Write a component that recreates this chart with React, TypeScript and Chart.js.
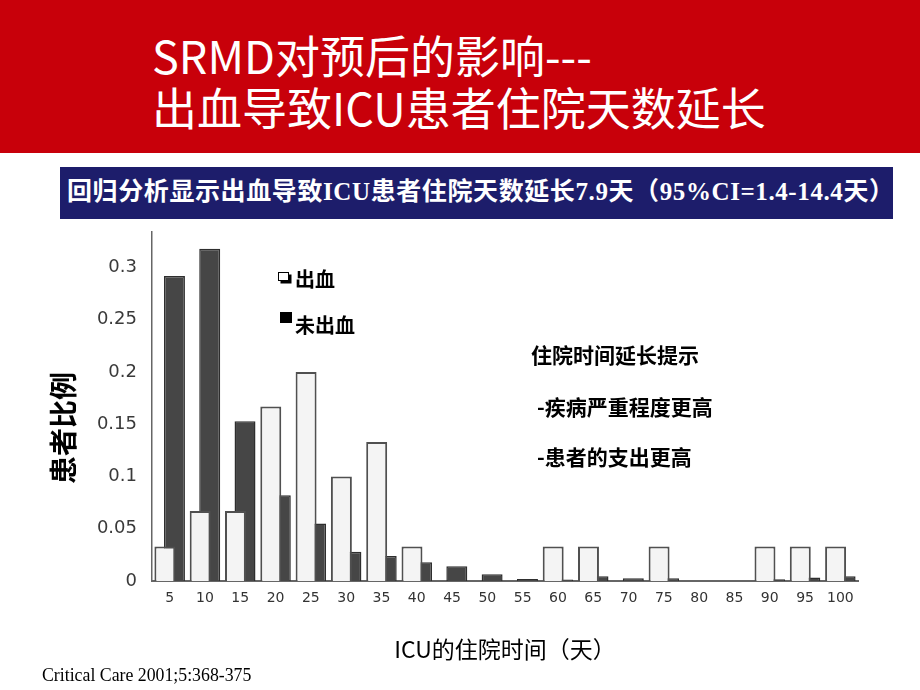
import React, { useEffect, useRef } from 'react';
import { Chart, registerables } from 'chart.js';

Chart.register(...registerables);

// ---- data ----
const days = ['5', '10', '15', '20', '25', '30', '35', '40', '45', '50', '55', '60', '65', '70', '75', '80', '85', '90', '95', '100'];
const bleeding = [0.033, 0.067, 0.067, 0.167, 0.2, 0.1, 0.133, 0.033, 0, 0, 0, 0.033, 0.033, 0, 0.033, 0, 0, 0.033, 0.033, 0.033];
const noBleeding = [0.292, 0.318, 0.153, 0.082, 0.055, 0.028, 0.024, 0.018, 0.014, 0.0065, 0.002, 0.0015, 0.0045, 0.0026, 0.0026, 0, 0, 0.0017, 0.0033, 0.0045];
const seriesNames = ['出血', '未出血'];
const yTickValues = [0, 0.05, 0.1, 0.15, 0.2, 0.25, 0.3];
const yTickLabels = ['0', '0.05', '0.1', '0.15', '0.2', '0.25', '0.3'];
const yMax = 0.334;

const titleLine1 = 'SRMD对预后的影响---';
const titleLine2 = '出血导致ICU患者住院天数延长';
const subtitle = '回归分析显示出血导致ICU患者住院天数延长7.9天（95%CI=1.4-14.4天）';
const yTitle = '患者比例';
const xTitle = 'ICU的住院时间（天）';
const notes = ['住院时间延长提示', '-疾病严重程度更高', '-患者的支出更高'];
const citation = 'Critical Care 2001;5:368-375';

const CJK = '"Noto Sans CJK SC", "Noto Sans", sans-serif';

export default function App() {
  const canvasRef = useRef<HTMLCanvasElement | null>(null);

  useEffect(() => {
    document.body.style.margin = '0';
    const canvas = canvasRef.current;
    if (!canvas) return;
    const chart = new Chart(canvas, {
      type: 'bar',
      data: {
        labels: days,
        datasets: [
          {
            label: seriesNames[0],
            data: bleeding,
            backgroundColor: '#f4f4f4',
            borderColor: '#505050',
            borderWidth: 2,
            categoryPercentage: 0.54,
            barPercentage: 2.2,
          },
          {
            label: seriesNames[1],
            data: noBleeding,
            backgroundColor: '#464646',
            borderColor: '#2e2e2e',
            borderWidth: 1.5,
            categoryPercentage: 0.54,
            barPercentage: 2.2,
          },
        ],
      },
      options: {
        animation: false,
        responsive: false,
        maintainAspectRatio: false,
        layout: { padding: { top: 12, left: 0, right: 62, bottom: 27 } },
        plugins: {
          legend: { display: false },
          tooltip: { enabled: false },
          title: { display: false },
        },
        scales: {
          x: {
            grid: { display: false, drawTicks: false },
            border: { color: '#666666', width: 2 },
            ticks: {
              color: '#333333',
              font: { family: '"DejaVu Sans", sans-serif', size: 14 },
              padding: 9,
              maxRotation: 0,
              autoSkip: false,
            },
            title: {
              display: true,
              text: xTitle,
              color: '#000000',
              font: { family: CJK, size: 23 },
              padding: { top: 0, bottom: 0 },
            },
            afterFit: (s: any) => {
              s.height = 82;
              s.paddingLeft = 0;
              s.paddingRight = 0;
            },
          },
          y: {
            min: 0,
            max: yMax,
            grid: { display: false, drawTicks: false },
            border: { color: '#666666', width: 1.5 },
            ticks: {
              color: '#3a3a3a',
              font: { family: '"DejaVu Sans", sans-serif', size: 18 },
              padding: 15,
              callback: (v: any) => {
                const i = yTickValues.findIndex((t) => Math.abs(t - Number(v)) < 1e-9);
                return i >= 0 ? yTickLabels[i] : '';
              },
            },
            afterBuildTicks: (s: any) => {
              s.ticks = yTickValues.map((v) => ({ value: v }));
            },
            afterFit: (s: any) => {
              s.width = 152;
              s.paddingTop = 0;
              s.paddingBottom = 0;
            },
          },
        },
      },
    });
    return () => chart.destroy();
  }, []);

  const abs = (extra: React.CSSProperties): React.CSSProperties => ({ position: 'absolute', whiteSpace: 'nowrap', ...extra });

  return (
    <div style={{ position: 'absolute', left: 0, top: 0, width: 920, height: 690, overflow: 'hidden', background: '#ffffff', fontFamily: CJK }}>
      {/* red header */}
      <div style={abs({ left: 0, top: 0, width: 920, height: 153, background: '#c8000a' })} />
      <div style={abs({ left: 152, top: 55, transform: 'translateY(-50%)', color: '#ffffff', fontSize: 45, lineHeight: '50px' })}>{titleLine1}</div>
      <div style={abs({ left: 152, top: 107, transform: 'translateY(-50%)', color: '#ffffff', fontSize: 45, lineHeight: '50px' })}>{titleLine2}</div>

      {/* navy banner */}
      <div style={abs({ left: 60, top: 167, width: 833, height: 52, background: '#1d1d6b' })} />
      <div style={abs({ left: 67, top: 192, transform: 'translateY(-50%)', color: '#ffffff', fontFamily: '"Liberation Serif", "Noto Sans CJK SC", serif', fontWeight: 'bold', fontSize: 25, letterSpacing: 0.6, lineHeight: '30px' })}>{subtitle}</div>

      {/* chart */}
      <canvas ref={canvasRef} width={920} height={470} style={{ position: 'absolute', left: 0, top: 220, width: 920, height: 470 }} />

      {/* y axis title */}
      <div style={abs({ left: 62, top: 428, transform: 'translate(-50%, -50%) rotate(-90deg)', color: '#000', fontWeight: 'bold', fontSize: 28, lineHeight: '32px' })}>{yTitle}</div>

      {/* legend */}
      <div style={abs({ left: 278, top: 272, width: 9, height: 7, border: '1.5px solid #000', boxShadow: '2.5px 2.5px 0 #000', background: '#fff' })} />
      <div style={abs({ left: 295, top: 279, transform: 'translateY(-50%)', color: '#000', fontWeight: 'bold', fontSize: 20, lineHeight: '24px' })}>{seriesNames[0]}</div>
      <div style={abs({ left: 280, top: 312, width: 12, height: 11, background: '#000' })} />
      <div style={abs({ left: 295, top: 325, transform: 'translateY(-50%)', color: '#000', fontWeight: 'bold', fontSize: 20, lineHeight: '24px' })}>{seriesNames[1]}</div>

      {/* notes */}
      <div style={abs({ left: 531, top: 354, transform: 'translateY(-50%)', color: '#000', fontWeight: 'bold', fontSize: 21, lineHeight: '26px' })}>{notes[0]}</div>
      <div style={abs({ left: 537, top: 406, transform: 'translateY(-50%)', color: '#000', fontWeight: 'bold', fontSize: 21, lineHeight: '26px' })}>{notes[1]}</div>
      <div style={abs({ left: 537, top: 456, transform: 'translateY(-50%)', color: '#000', fontWeight: 'bold', fontSize: 21, lineHeight: '26px' })}>{notes[2]}</div>

      {/* citation */}
      <div style={abs({ left: 42, top: 675, transform: 'translateY(-50%)', color: '#000', fontFamily: '"Liberation Serif", serif', fontSize: 17.8, lineHeight: '20px' })}>{citation}</div>
    </div>
  );
}
